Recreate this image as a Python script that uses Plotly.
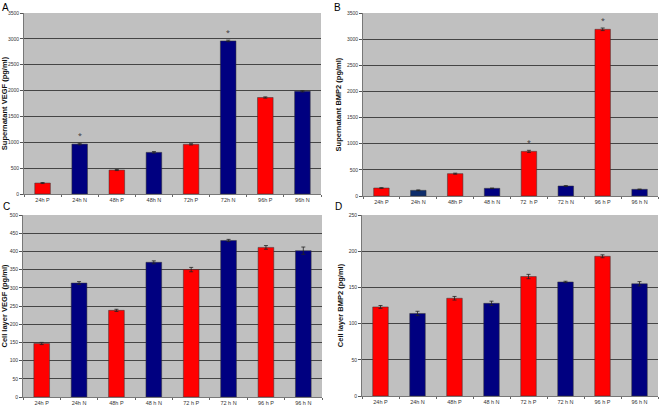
import plotly.graph_objects as go

# ---- data ----
labels_A = ["24h P", "24h N", "48h P", "48h N", "72h P", "72h N", "96h P", "96h N"]
labels_B = ["24h P", "24h N", "48h P", "48 h N", "72  h P", "72 h N", "96 h P", "96 h N"]
labels_C = ["24h P", "24h N", "48h P", "48 h N", "72 h P", "72 h N", "96 h P", "96 h N"]
labels_D = ["24h P", "24h N", "48h P", "48 h N", "72 h P", "72 h N", "96 h P", "96 h N"]

vals_A = [212, 965, 463, 805, 960, 2960, 1866, 1985]
err_A = [10, 15, 10, 15, 12, 15, 12, 12]
vals_B = [153, 108, 427, 147, 854, 191, 3188, 128]
err_B = [5, 8, 10, 5, 20, 8, 25, 5]
vals_C = [147, 313, 238, 370, 350, 430, 411, 402]
err_C = [3, 4, 3, 4, 6, 3, 5, 10]
vals_D = [123, 114, 135, 128, 165, 157.5, 193, 155]
err_D = [2, 3, 2.5, 3, 3, 1, 2, 3]

colors_A = ["#FF0000", "#000080"] * 4
colors_B = ["#FF0000", "#0E2D6B", "#FF0000", "#000080", "#FF0000", "#000080", "#FF0000", "#000080"]
colors_C = ["#FF0000", "#000080"] * 4
colors_D = ["#FF0000", "#000080"] * 4

stars_A = [1, 5]
stars_B = [4, 6]

titles = ["Supernatant VEGF (pg/ml)", "Supernatant BMP2 (pg/ml)",
          "Cell layer VEGF (pg/ml)", "Cell layer BMP2 (pg/ml)"]
ranges = [[0, 3500], [0, 3500], [0, 500], [0, 250]]
dticks = [500, 500, 50, 50]

W, H = 662, 407
def dx(a, b):
    return [a / W, b / W]
def dy(top, bot):
    return [1 - bot / H, 1 - top / H]

domains = [
    (dx(24, 321), dy(13, 194)),
    (dx(363, 658), dy(13, 196)),
    (dx(23, 322), dy(215, 397)),
    (dx(362, 658), dy(215, 396)),
]

panels = [
    (labels_A, vals_A, err_A, colors_A),
    (labels_B, vals_B, err_B, colors_B),
    (labels_C, vals_C, err_C, colors_C),
    (labels_D, vals_D, err_D, colors_D),
]

fig = go.Figure()
layout = {}
for i, (lab, v, e, c) in enumerate(panels):
    n = "" if i == 0 else str(i + 1)
    fig.add_trace(go.Bar(
        x=lab, y=v, marker=dict(color=c, line=dict(color="#333333", width=0.5)),
        error_y=dict(type="data", array=e, color="#222222", thickness=0.8, width=2),
        width=0.42, xaxis="x" + n, yaxis="y" + n, showlegend=False,
    ))
    xd, yd = domains[i]
    layout["xaxis" + n] = dict(
        domain=xd, anchor="y" + n, type="category", tickson="boundaries",
        ticks="outside", ticklen=2, tickcolor="#666666",
        tickfont=dict(size=5.5, color="#333333", family="Arial"),
        showline=True, linecolor="#777777", linewidth=1, mirror=False,
        showgrid=False, fixedrange=True, automargin=False,
    )
    layout["yaxis" + n] = dict(
        domain=yd, anchor="x" + n, range=ranges[i], dtick=dticks[i],
        ticks="outside", ticklen=3, tickcolor="#555555",
        tickfont=dict(size=5, color="#333333", family="Arial"),
        showgrid=True, gridcolor="#454545", gridwidth=1,
        showline=True, linecolor="#777777", linewidth=1,
        zeroline=False, automargin=False,
        title=dict(text="<b>" + titles[i] + "</b>", font=dict(size=7.5, color="#111111", family="Arial"), standoff=4),
    )

annotations = []
for idx in stars_A:
    annotations.append(dict(x=labels_A[idx], y=vals_A[idx] + err_A[idx], xref="x", yref="y",
                            text="*", showarrow=False, yshift=8, font=dict(size=7, color="#333333")))
for idx in stars_B:
    annotations.append(dict(x=labels_B[idx], y=vals_B[idx] + err_B[idx], xref="x2", yref="y2",
                            text="*", showarrow=False, yshift=8, font=dict(size=7, color="#333333")))
for t, px, py in [("A", 0, 0), ("B", 332, 0), ("C", 1, 199), ("D", 333, 199)]:
    annotations.append(dict(x=px / W, y=1 - py / H, xref="paper", yref="paper", text=t,
                            showarrow=False, xanchor="left", yanchor="top",
                            font=dict(size=10, color="#000000", family="Arial")))

fig.update_layout(
    width=W, height=H, margin=dict(l=0, r=0, t=0, b=0),
    paper_bgcolor="white", plot_bgcolor="#C0C0C0",
    bargap=0.58, annotations=annotations, **layout,
)
fig.write_html("out.html", config={"displayModeBar": False},
               post_script="document.body.style.margin='0px';")
